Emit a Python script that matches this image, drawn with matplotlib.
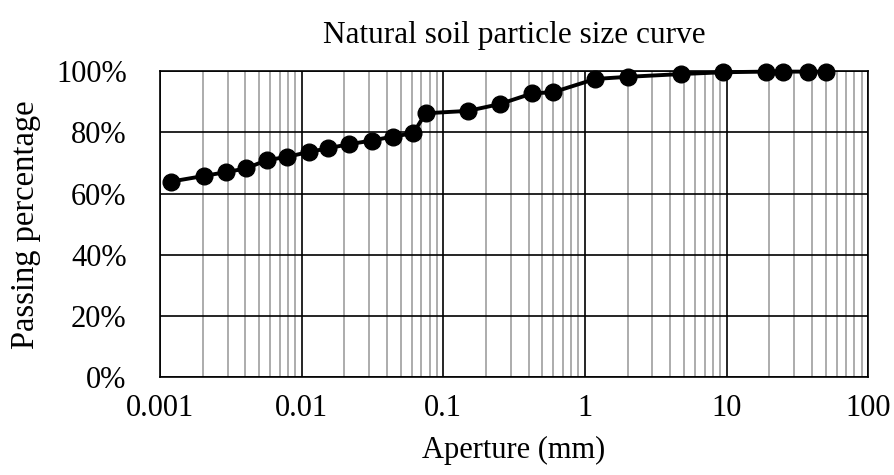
import numpy as np
import matplotlib
matplotlib.use('Agg')
import matplotlib.pyplot as plt
from matplotlib.ticker import LogLocator, FixedLocator, PercentFormatter, FuncFormatter

plt.rcParams['font.family'] = ['Liberation Serif', 'DejaVu Serif']

# sieve aperture (mm) and passing percentage (%)
aperture = [0.00119, 0.00206, 0.00292, 0.00404, 0.00566, 0.00792, 0.0113, 0.0154,
            0.0215, 0.0312, 0.0439, 0.0614, 0.075, 0.15, 0.25, 0.425, 0.6, 1.18,
            2.0, 4.75, 9.5, 19.0, 25.0, 37.5, 50.0]
passing = [63.9, 65.8, 67.0, 68.2, 70.9, 72.0, 73.6, 74.8, 76.1, 77.3, 78.6, 79.7,
           86.2, 87.0, 89.2, 92.7, 93.1, 97.4, 98.1, 99.0, 99.6, 99.8, 99.8, 99.8, 99.8]
x_ticks = [0.001, 0.01, 0.1, 1, 10, 100]
x_labels = ['0.001', '0.01', '0.1', '1', '10', '100']

fig = plt.figure(figsize=(8.95, 4.75), dpi=100)
ax = fig.add_axes([0.1788, 0.2053, 0.7912, 0.6452])

ax.set_xscale('log')
ax.set_xlim(0.001, 100)
ax.set_ylim(0, 100)

ax.xaxis.set_major_locator(FixedLocator(x_ticks))
ax.xaxis.set_major_formatter(FuncFormatter(lambda v, p: x_labels[x_ticks.index(v)] if v in x_ticks else ''))
ax.xaxis.set_minor_locator(LogLocator(base=10, subs=np.arange(2, 10), numticks=20))
ax.xaxis.set_minor_formatter(FuncFormatter(lambda v, p: ''))
ax.set_yticks(np.arange(0, 101, 20))
ax.yaxis.set_major_formatter(PercentFormatter(decimals=0))

ax.grid(which='minor', axis='x', color='#a6a6a6', lw=1.3)
ax.grid(which='major', axis='both', color='black', lw=1.2)
ax.set_axisbelow(True)
for s in ax.spines.values():
    s.set_color('black')
    s.set_linewidth(1.2)

ax.tick_params(which='both', length=0, labelsize=22)
ax.tick_params(axis='x', pad=12)
ax.tick_params(axis='y', pad=24)

ax.plot(aperture, passing, color='black', lw=2.8, marker='o', markersize=12, clip_on=False, zorder=3)

ax.set_title('Natural soil particle size curve', fontsize=22.5, pad=20)
ax.set_xlabel('Aperture (mm)', fontsize=22, labelpad=9)
ax.set_ylabel('Passing percentage', fontsize=23.5, labelpad=11)

fig.savefig('out.png', dpi=100)
